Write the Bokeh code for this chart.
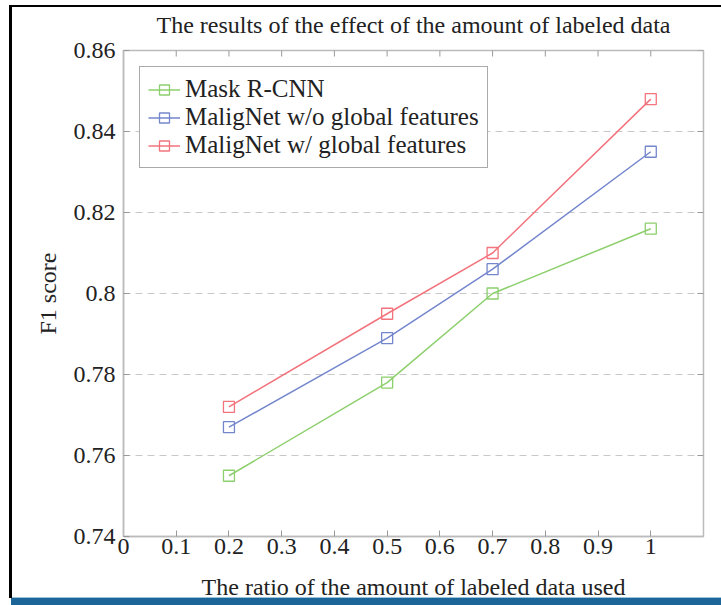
import math
from bokeh.plotting import figure
from bokeh.models import FixedTicker, CustomJSTickFormatter, Range1d, Legend, LegendItem
from bokeh.embed import file_html
from bokeh.resources import INLINE

ratios = [0.2, 0.5, 0.7, 1.0]
mask_rcnn = [0.755, 0.778, 0.800, 0.816]
malig_wo = [0.767, 0.789, 0.806, 0.835]
malig_w = [0.772, 0.795, 0.810, 0.848]
series_names = ["Mask R-CNN", "MaligNet w/o global features", "MaligNet w/ global features"]
series_colors = ["#8ccf6c", "#7486cc", "#f2737c"]

x_ticks = [0, 0.1, 0.2, 0.3, 0.4, 0.5, 0.6, 0.7, 0.8, 0.9, 1.0]
x_labels = ["0", "0.1", "0.2", "0.3", "0.4", "0.5", "0.6", "0.7", "0.8", "0.9", "1"]
y_ticks = [0.74, 0.76, 0.78, 0.80, 0.82, 0.84, 0.86]
y_labels = ["0.74", "0.76", "0.78", "0.8", "0.82", "0.84", "0.86"]
x_min, x_max = 0, 1.1
y_min, y_max = 0.74, 0.86

FONT = "Liberation Serif"
FS = "24px"

page_bg = ("linear-gradient(#000,#000) 9px 5px / 3px 593px no-repeat, "
           "linear-gradient(#000,#000) 9px 5px / 712px 2px no-repeat, "
           "linear-gradient(#9cc3dc,#9cc3dc) 11px 597px / 710px 1px no-repeat, "
           "linear-gradient(#1b6598,#1b6598) 11px 598px / 710px 7px no-repeat, "
           "#ffffff")

p = figure(width=721, height=605, output_backend="svg", toolbar_location=None,
           x_range=Range1d(x_min, x_max), y_range=Range1d(y_min, y_max),
           min_border_left=123, min_border_right=18, min_border_top=50, min_border_bottom=69,
           title="The results of the effect of the amount of labeled data",
           styles={"background": page_bg})
p.border_fill_color = None
p.background_fill_color = "#ffffff"

p.title.text_font = FONT
p.title.text_font_style = "normal"
p.title.text_font_size = FS
p.title.align = "center"
p.title.vertical_align = "top"
p.title.text_color = "#222222"
p.title.standoff = 22

p.outline_line_color = "#bbbbbb"
p.outline_line_width = 1.5

def fmt(labels):
    return CustomJSTickFormatter(args=dict(labels=labels), code="return labels[index];")

def style_axis(ax, ticks, labels):
    ax.ticker = FixedTicker(ticks=ticks)
    ax.formatter = fmt(labels)
    ax.major_tick_in = 6
    ax.major_tick_out = 0
    ax.minor_tick_line_color = None
    ax.major_tick_line_color = "#999999"
    ax.axis_line_color = "#bbbbbb"
    ax.axis_line_width = 1.5
    ax.major_label_text_font = FONT
    ax.major_label_text_font_size = FS
    ax.major_label_text_color = "#222222"
    ax.axis_label_text_font = FONT
    ax.axis_label_text_font_size = FS
    ax.axis_label_text_font_style = "normal"
    ax.axis_label_text_color = "#222222"

style_axis(p.xaxis[0], x_ticks, x_labels)
style_axis(p.yaxis[0], y_ticks, y_labels)
p.xaxis[0].axis_label = "The ratio of the amount of labeled data used"
p.yaxis[0].axis_label = "F1 score"
p.xaxis[0].major_label_standoff = 2
p.yaxis[0].major_label_standoff = 8
p.yaxis[0].axis_label_standoff = 10
p.xaxis[0].axis_label_standoff = 17

# mirror ticks on top and right edges (pointing inward)
p.ray(x=x_ticks, y=[y_max] * len(x_ticks), length=6, length_units="screen",
      angle=-math.pi / 2, line_color="#999999", line_width=1)
p.ray(x=[x_max] * len(y_ticks), y=y_ticks, length=6, length_units="screen",
      angle=math.pi, line_color="#999999", line_width=1)

p.xgrid.grid_line_color = None
p.ygrid.ticker = FixedTicker(ticks=y_ticks)
p.ygrid.grid_line_color = "#c8c8c8"
p.ygrid.grid_line_dash = "7 5"
p.ygrid.grid_line_width = 1.2

items = []
for name, vals, col in zip(series_names, [mask_rcnn, malig_wo, malig_w], series_colors):
    l = p.line(ratios, vals, line_color=col, line_width=1.5)
    s = p.scatter(ratios, vals, marker="square", size=11, fill_color=None,
                  line_color=col, line_width=1.3)
    items.append(LegendItem(label=name, renderers=[l, s]))

legend = Legend(items=items, location="top_left")
legend.margin = 16
legend.padding = 8
legend.spacing = 0
legend.glyph_width = 32
legend.glyph_height = 25
legend.label_standoff = 5
legend.label_height = 25
legend.label_text_font = FONT
legend.label_text_font_size = "25px"
legend.label_text_color = "#222222"
legend.border_line_color = "#555555"
legend.border_line_width = 1.2
legend.background_fill_alpha = 1
p.add_layout(legend, "center")

open("out.html", "w").write(file_html(p, INLINE))
